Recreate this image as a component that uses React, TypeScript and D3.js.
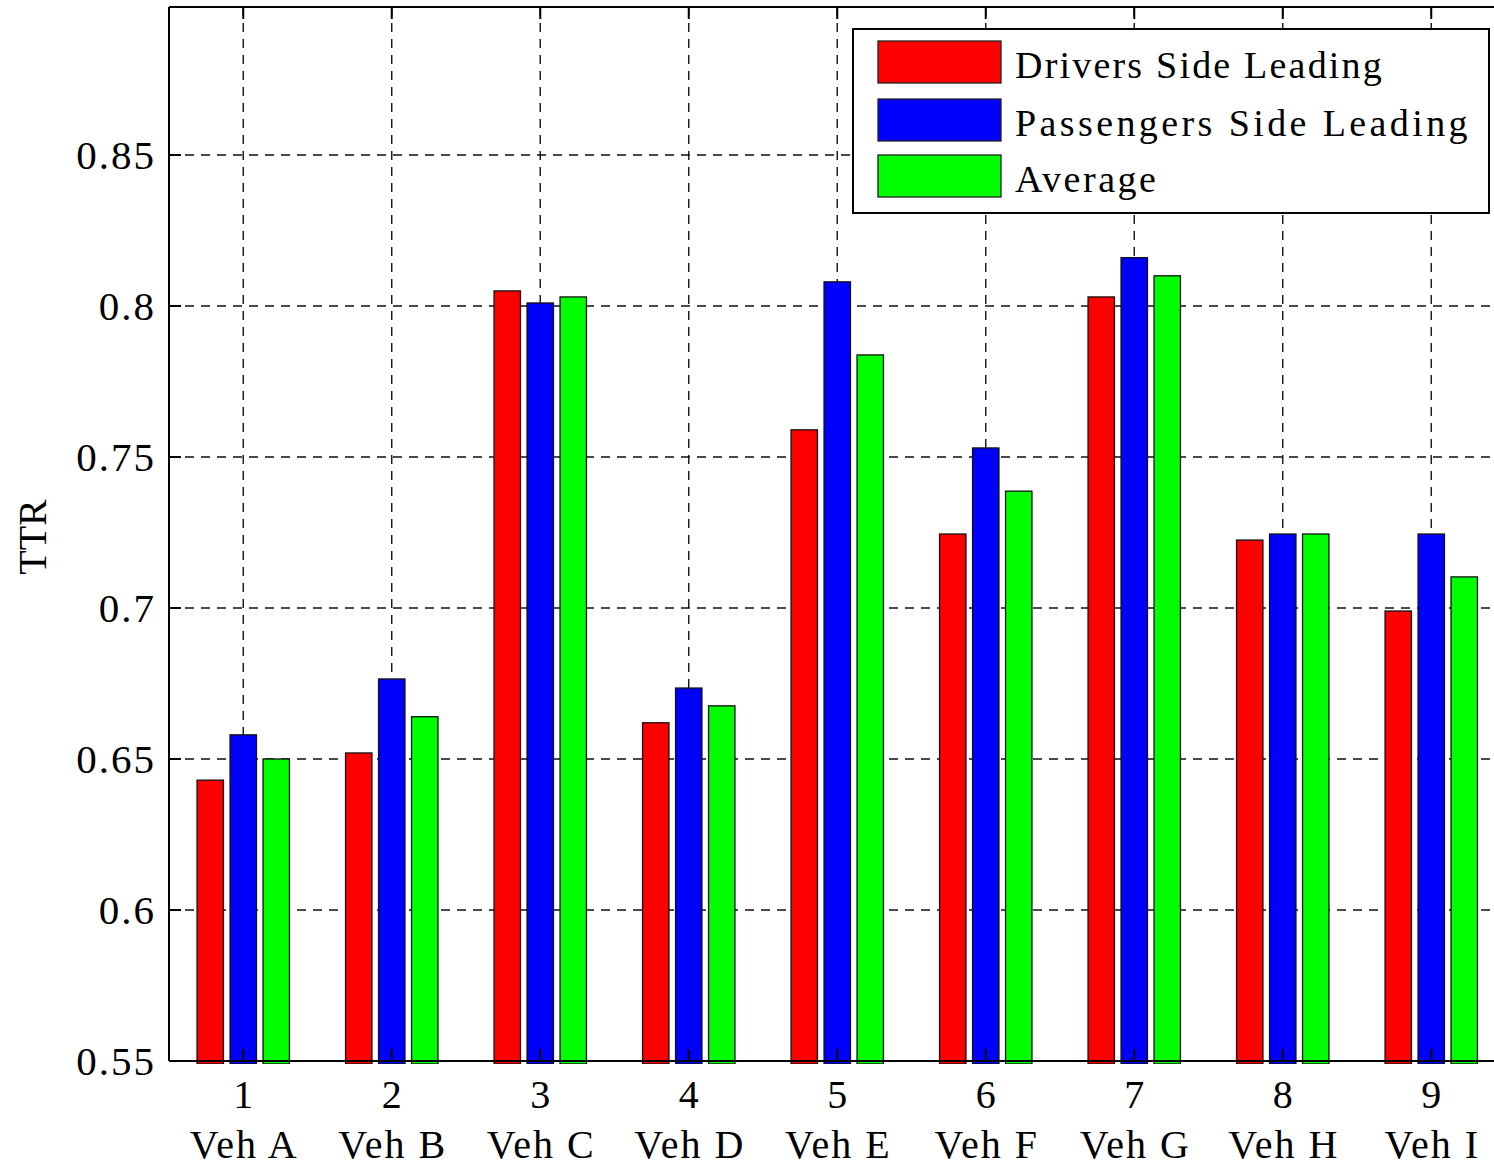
import React from "react";
import * as d3 from "d3";

const categories = ["1", "2", "3", "4", "5", "6", "7", "8", "9"];
const vehicles = ["Veh A", "Veh B", "Veh C", "Veh D", "Veh E", "Veh F", "Veh G", "Veh H", "Veh I"];
const seriesNames = ["Drivers Side Leading", "Passengers Side Leading", "Average"];
const driversSide = [0.643, 0.652, 0.805, 0.662, 0.759, 0.7245, 0.803, 0.7225, 0.699];
const passengersSide = [0.658, 0.6765, 0.801, 0.6735, 0.808, 0.753, 0.816, 0.7245, 0.7245];
const average = [0.650, 0.664, 0.803, 0.6676, 0.7838, 0.7387, 0.810, 0.7245, 0.7103];
const yTicks = [0.55, 0.6, 0.65, 0.7, 0.75, 0.8, 0.85];
const colors = ["#ff0000", "#0000ff", "#00ff00"];

const W = 1494;
const H = 1169;
const font = "'Liberation Serif', 'Times New Roman', serif";

export default function App() {
  const series = [driversSide, passengersSide, average];

  const left = 169, top = 7, bottom = 1061;
  // x domain in category units, plot runs past the right edge of the image
  const x = d3.scaleLinear().domain([0.5, 9.5]).range([left, left + 9 * 148.5]);
  const y = d3.scaleLinear().domain([0.55, 0.9]).range([bottom, bottom - 0.35 * 3020]);
  const right = x(9.5);

  const groupW = (3 / 4.5) * 148.5;
  const slot = groupW / 3;
  const barW = slot * 0.8;

  return (
    <div style={{ position: "absolute", left: 0, top: 0 }}>
      <svg width={W} height={H} style={{ display: "block", background: "#fff" }}>
        <defs>
          <clipPath id="clip">
            <rect x={left} y={top} width={right - left} height={bottom - top + 3} />
          </clipPath>
        </defs>
        <rect x={0} y={0} width={W} height={H} fill="#fff" />

        {/* grid */}
        <g stroke="#111" strokeWidth={1.4} strokeDasharray="9,7">
          {yTicks.slice(1).map((t) => (
            <line key={t} x1={left} x2={right} y1={y(t)} y2={y(t)} />
          ))}
          {categories.map((c, i) => (
            <line key={c} x1={x(i + 1)} x2={x(i + 1)} y1={top} y2={bottom} />
          ))}
        </g>

        {/* bars */}
        <g clipPath="url(#clip)">
          {series.map((vals, s) =>
            vals.map((v, i) => (
              <rect
                key={s + "-" + i}
                x={x(i + 1) - groupW / 2 + s * slot + (slot - barW) / 2}
                y={y(v)}
                width={barW}
                height={bottom + 3 - y(v)}
                fill={colors[s]}
                stroke="#111"
                strokeWidth={1.3}
              />
            ))
          )}
        </g>

        {/* frame and ticks */}
        <g stroke="#000" strokeWidth={2}>
          <line x1={left} x2={right} y1={top} y2={top} />
          <line x1={left} x2={right} y1={bottom} y2={bottom} />
          <line x1={left} x2={left} y1={top} y2={bottom} />
          {yTicks.map((t) => (
            <line key={t} x1={left} x2={left + 12} y1={y(t)} y2={y(t)} />
          ))}
          {categories.map((c, i) => (
            <g key={c}>
              <line x1={x(i + 1)} x2={x(i + 1)} y1={bottom} y2={bottom - 12} />
              <line x1={x(i + 1)} x2={x(i + 1)} y1={top} y2={top + 12} />
            </g>
          ))}
        </g>

        {/* y tick labels */}
        <g fontFamily={font} fontSize={41} fill="#000" textAnchor="end">
          {yTicks.map((t) => (
            <text key={t} x={156} y={y(t) + 14} letterSpacing={2}>
              {d3.format("")(t)}
            </text>
          ))}
        </g>

        {/* x tick labels */}
        <g fontFamily={font} fontSize={40} fill="#000" textAnchor="middle">
          {categories.map((c, i) => (
            <text key={c} x={x(i + 1)} y={1108}>{c}</text>
          ))}
          {vehicles.map((v, i) => (
            <text key={v} x={x(i + 1) + 1} y={1158} letterSpacing={2}>{v}</text>
          ))}
        </g>

        {/* y axis title */}
        <text
          transform={`translate(46, 537) rotate(-90)`}
          fontFamily={font}
          fontSize={40}
          textAnchor="middle"
        >
          TTR
        </text>

        {/* legend */}
        <g>
          <rect x={853} y={29} width={636} height={184} fill="#fff" stroke="#000" strokeWidth={2} />
          {seriesNames.map((n, i) => (
            <g key={n}>
              <rect
                x={878}
                y={[41, 99, 155][i]}
                width={123}
                height={42}
                fill={colors[i]}
                stroke="#222"
                strokeWidth={1.3}
              />
              <text
                x={1015}
                y={[78, 136, 192][i]}
                fontFamily={font}
                fontSize={38}
                letterSpacing={[2.2, 3.4, 2.5][i]}
              >
                {n}
              </text>
            </g>
          ))}
        </g>
      </svg>
    </div>
  );
}
